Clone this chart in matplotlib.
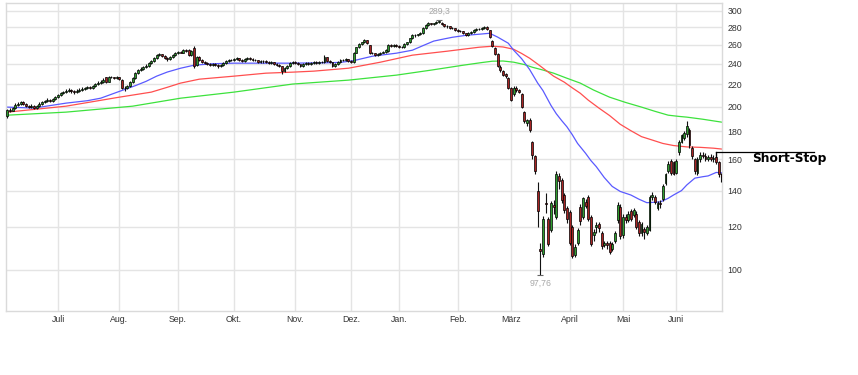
import matplotlib
matplotlib.use('Agg')
import matplotlib.pyplot as plt
import matplotlib.transforms as mtransforms
from matplotlib.ticker import NullLocator, FuncFormatter
import numpy as np
import pandas as pd

# ---------------- data (daily candles, Jun 2019 - Jun 2020) ----------------
opens = [
    192, 197, 196.5, 198.5, 201.5, 202, 203.5, 202, 200.5, 199.5, 200.5, 198.5, 200.5, 202.5, 204, 204.5, 205.5, 204.5, 206.5,
    208, 210, 211.5, 212.5, 213.5, 214.5, 213.5, 212.5, 213.5, 214.5, 215.5, 216, 217, 216, 218, 220, 221, 222, 226.5, 222, 226.5, 226.5, 225.5,
    226.5, 224, 216.5, 216, 218, 222, 225.5, 231, 233.5, 235, 236.5, 238, 240.5, 242.5, 245.5, 248.5, 249.5, 247.5, 245.5, 244.5, 246.5, 248.5,
    251, 252, 251.5, 254, 254, 248.5, 256, 238.5, 246.5, 243.5, 241.5, 240.5, 239.5, 238.5, 239.5, 238.5, 237.5, 238.5, 240.5, 242.5, 243.5,
    243.5, 244.5, 245.5, 243.5, 242.5, 244.5, 245.5, 244.5, 243.5, 243.5, 241.5, 242.5, 242.5, 241.5, 240.5, 241.5, 239.5, 238.5, 237.5, 232.5, 235.5, 237.5, 240.5,
    241.5, 240.5, 239.5, 237.5, 239.5, 240.5, 239.5, 240.5, 241.5, 240.5, 241.5, 241.5, 246.5, 242.5, 241.5, 237.5, 239.5, 241.5, 243.5, 243.5, 244.5,
    242.5, 241.5, 251.5, 257, 260.5, 262.5, 265, 259.5, 251, 250.5, 248.5, 249.5, 251.5, 252.5, 253, 259.5, 258.5, 259.5,
    258.5, 257, 257.5, 260.5, 262.5, 267, 270.5, 270.5, 271.5, 273, 279, 282.5, 284.5, 283.5, 284.5, 286, 285.5, 283.5, 281, 281, 278.5, 279,
    276.5, 275, 275.5, 273, 270.5, 273, 274, 276.5, 277.5, 277.5, 279, 280, 276.5, 264, 256, 249.5, 237, 233, 229.5, 225.5,
    216, 210.5, 216.5, 214.5, 211, 195.5, 186.5, 189, 172, 162, 140, 109.5, 107, 133, 124, 118.5, 131.5, 125, 149, 146.5, 137.5, 130,
    128, 120, 106.5, 112, 130.5, 125, 133.5, 136, 125, 116, 120, 121.5, 117, 111, 112, 112, 109.5, 113, 123.5, 130.5,
    116, 125, 123.5, 128.5, 126, 127, 122.5, 117, 119, 117, 118.5, 136, 136, 130, 133, 135, 144.5, 152, 159, 158,
    151, 165, 172, 175, 178, 181, 168, 160, 151, 160, 163, 162, 160, 161.5, 160, 161.5, 158, 150,
]
highs = [
    197.8, 199, 200, 203, 203.5, 205, 204.5, 203, 201.5, 202, 201, 201.5, 203.5, 205, 206, 207, 206.5, 207.5, 209.5,
    211, 213, 214, 215, 216, 215.5, 214.5, 215, 216, 217, 217.5, 218.5, 218, 219.5, 221, 222.5, 223.5, 225.5, 227, 227.5, 227.5, 227, 227.5,
    227, 224.5, 218, 219, 223, 226.5, 232, 234.5, 236.5, 237.5, 239.5, 241.5, 244, 246.5, 250, 251, 250, 248.5, 246.5, 247.5, 249.5, 252,
    253.5, 253, 255, 255.5, 255, 254, 258.5, 248, 248, 244.5, 242.5, 241.5, 240.5, 240.5, 240.5, 239.5, 239.5, 241.5, 243.5, 244.5, 245,
    245.5, 247, 246, 244.5, 245.5, 246.5, 246.5, 245.5, 245, 244, 243.5, 243.5, 243.5, 242.5, 242.5, 242, 240.5, 239.5, 238, 236.5, 238.5, 241.5, 242.5,
    242.5, 241.5, 240, 240.5, 241.5, 241.5, 241.5, 242.5, 242.5, 242.5, 243, 249, 247, 243.5, 242, 240.5, 242.5, 244.5, 244.5, 245.5, 245,
    243.5, 252.5, 258, 261.5, 263.5, 266.5, 265.5, 260, 252, 251, 250.5, 252.5, 253.5, 255, 260.5, 260.5, 260.5, 260.5,
    259.5, 258.5, 261.5, 263.5, 268, 271.5, 271.5, 272.5, 274, 280, 283.5, 286, 285.5, 285.5, 287, 289.3, 286.5, 284, 282.5, 281.5, 280, 279.5,
    277.5, 276.5, 276, 273.5, 274, 275, 277.5, 278.5, 279, 280, 281.5, 281, 277, 265, 257, 250.5, 238.5, 234, 230.5, 226.5,
    217, 218, 218, 215.5, 211.5, 196, 190, 190.5, 173, 163, 145, 112, 125.5, 138.5, 125, 134, 134.5, 152, 151, 147.5, 138.5, 131,
    129, 121, 111.5, 119.5, 132, 136.5, 135, 137.5, 126, 119, 122.5, 122.5, 118, 113, 113, 113, 112.5, 118, 133.5, 132,
    126.5, 126.5, 128.5, 129.5, 130, 128.5, 123.5, 122.5, 120, 121, 137.5, 139, 137.5, 134, 134.5, 144, 151, 158.5, 160, 159,
    160, 173.5, 178, 180, 188, 182.5, 169, 161, 161.5, 165, 165, 164, 163, 163.5, 162.5, 165, 159, 151,
]
lows = [
    190.4, 195, 196, 198, 200.5, 201.5, 201, 199.5, 198.5, 199, 197.5, 198, 200, 201.5, 203, 203.5, 203.5, 204, 205.5,
    207, 209.5, 210.5, 212, 212.5, 212, 211, 211.5, 213, 214, 214.5, 215, 215, 215.5, 217, 219, 220, 221, 221, 221.5, 225.5, 224.5, 225,
    224, 215, 214, 215.5, 217.5, 221, 225, 230, 232.5, 234, 235.5, 237, 239.5, 241.5, 244.5, 247.5, 246.5, 244.5, 243, 243.5, 245.5, 247.5,
    250, 250.5, 250.5, 252, 247.5, 248, 235.5, 237.5, 242.5, 240.5, 239.5, 238.5, 237.5, 237.5, 237.5, 236, 236.5, 237.5, 239.5, 241.5, 242.5,
    242.5, 243.5, 242.5, 241.5, 241.5, 243.5, 243.5, 242.5, 242.5, 240.5, 240.5, 241, 240.5, 239.5, 239.5, 238.5, 237.5, 236.5, 229.5, 231.5, 234.5, 236.5, 239.5,
    239.5, 238.5, 236.5, 236.5, 238.5, 238.5, 238.5, 239.5, 239.5, 239.5, 240.5, 241, 241.5, 240.5, 236.5, 236.5, 238.5, 240.5, 242.5, 242.5, 241.5,
    240.5, 241, 251, 256, 259.5, 261.5, 260.5, 250, 249.5, 247.5, 247.5, 248.5, 250.5, 251.5, 252.5, 257.5, 257.5, 257.5,
    256, 256, 256.5, 259.5, 261.5, 266, 269, 269.5, 270.5, 272.5, 278, 281.5, 282.5, 282.5, 283.5, 285, 282.5, 280, 279.5, 277.5, 277.5, 275.5,
    274, 274, 272, 269.5, 270, 272, 273, 275.5, 276.5, 276.5, 278, 277, 267, 257, 248.5, 236.5, 232, 227.5, 226, 215,
    204.5, 209.5, 213, 211.5, 198.5, 186.5, 184, 179.5, 160, 150, 120, 97.76, 105.5, 127.5, 110.5, 117.5, 126.5, 124, 141, 133, 127.5, 122,
    111, 105, 105.5, 111, 121, 124, 130, 123, 110.5, 113, 117, 117.5, 109.5, 110, 109.5, 107, 108.5, 112, 122, 114,
    114.5, 122, 122.5, 123, 125, 119, 115.5, 115.5, 114, 116, 118, 134.5, 132.5, 129, 130, 134, 143.5, 151, 149.5, 149.5,
    150, 163, 171, 173.5, 176, 168, 160, 150, 149.5, 158, 160.5, 158.5, 159, 158.5, 158, 157, 148, 145,
]
closes = [
    197, 196.5, 198.5, 201.5, 202, 203.5, 202, 200.5, 199.5, 200.5, 198.5, 200.5, 202.5, 204, 204.5, 205.5, 204.5, 206.5, 208,
    210, 211.5, 212.5, 213.5, 214.5, 213.5, 212.5, 213.5, 214.5, 215.5, 216, 217, 216, 218, 220, 221, 222, 224, 222, 226.5, 226.5, 225.5, 226.5,
    225, 216.5, 216, 218, 222, 225.5, 231, 233.5, 235, 236.5, 238, 240.5, 242.5, 245.5, 248.5, 249.5, 247.5, 245.5, 244.5, 246.5, 248.5, 251,
    252, 251.5, 254, 253, 248.5, 253, 237.5, 246.5, 243.5, 241.5, 240.5, 239.5, 238.5, 239.5, 238.5, 237.5, 238.5, 240.5, 242.5, 243.5, 243.5,
    244.5, 245.5, 243.5, 242.5, 244.5, 245.5, 244.5, 243.5, 243.5, 241.5, 242.5, 242.5, 241.5, 240.5, 241.5, 239.5, 238.5, 237.5, 232.5, 235.5, 237.5, 240.5, 241.5,
    240.5, 239.5, 237.5, 239.5, 240.5, 239.5, 240.5, 241.5, 240.5, 241.5, 241.5, 246.5, 242.5, 241.5, 237.5, 239.5, 241.5, 243.5, 243.5, 244.5, 242.5,
    241.5, 251.5, 257, 260.5, 262.5, 265, 261.5, 251, 250.5, 248.5, 249.5, 251.5, 252.5, 254, 259.5, 258.5, 259.5, 258.5,
    257, 257.5, 260.5, 262.5, 267, 270.5, 270.5, 271.5, 273, 279, 282.5, 284.5, 283.5, 284.5, 286, 287, 283.5, 281, 281, 278.5, 279, 276.5,
    275, 275.5, 273, 270.5, 273, 274, 276.5, 277.5, 277.5, 279, 280, 278, 268.5, 259, 250, 238, 233.5, 229, 227.5, 216,
    205.5, 216.5, 214.5, 213, 200, 188, 189, 181, 163, 152, 128.5, 108.5, 124, 132, 111.5, 133, 130.5, 150.5, 146, 134.5, 129, 124,
    112, 106, 110, 118.5, 123, 135.5, 131, 124, 111.5, 117.5, 121, 119.5, 110.5, 112, 111, 108, 111.5, 117, 131.5, 115.5,
    125, 123.5, 127, 124, 129, 120, 117, 121.5, 117.5, 120, 136, 137.5, 133.5, 133, 132, 143, 150, 157, 151, 150.5,
    158.5, 172, 177, 178.5, 184, 170, 162, 152, 160, 163, 162, 160, 161.5, 160, 161, 158, 150, 148,
]

# trading calendar
start_date, end_date = '2019-06-04', '2020-06-24'
holidays = ['2019-12-24', '2019-12-25', '2019-12-26', '2019-12-31',
            '2020-01-01', '2020-04-10', '2020-04-13', '2020-05-01']
month_labels = ['Juli', 'Aug.', 'Sep.', 'Okt.', 'Nov.', 'Dez.', 'Jan.',
                'Feb.', 'März', 'April', 'Mai', 'Juni']
y_ticks = [100, 120, 140, 160, 180, 200, 220, 240, 260, 280, 300]

# moving averages (trading-day number, value)
ma_short_day = [0, 10, 22, 30, 35, 40, 44, 48, 52, 56, 60, 65, 70, 77, 85, 107, 120, 125, 130, 137,
                146, 152, 156, 160, 164, 167, 172, 177, 181, 184, 188, 190, 193, 196, 199, 201, 204,
                206, 208, 210, 212, 214, 217, 219, 221, 224, 227, 230, 234, 237, 240, 245, 248, 250,
                253, 255, 258, 261, 263, 266, 268]
ma_short_val = [199.5, 198.7, 202.9, 205, 207.2, 211.5, 215, 218.5, 222.5, 227.5, 231.5, 235.3, 238.3,
                239.8, 240.4, 240.4, 240.8, 241.2, 243, 247.6, 250.8, 254, 259, 264, 266.5, 268.3,
                270.5, 271.8, 272.9, 268.5, 261.6, 254, 245, 234, 221, 214, 201, 194, 188.5, 183.5,
                177.5, 171, 164, 159, 155, 148, 142.5, 139.5, 137.4, 135, 133, 133.4, 135.5, 137.4,
                140, 143.4, 147.6, 148.5, 149, 151.2, 151]
ma_mid_day = [0, 22, 42, 54, 60, 65, 72, 85, 97, 107, 115, 128, 140, 152, 165, 177, 182, 186, 190,
              193, 196, 199, 202, 205, 209, 212, 215, 218, 222, 226, 230, 234, 238, 242, 246, 250,
              255, 260, 265, 268]
ma_mid_val = [195.3, 200.3, 208.1, 212.6, 217, 220.9, 224.6, 227.5, 230.4, 231.4, 232.4, 235.3, 241.4,
              248.7, 252.9, 257.2, 258.3, 257.5, 255, 250.5, 245.5, 239.5, 233.4, 227.5, 221.8, 216.5,
              211.6, 205.5, 198.7, 192.5, 185.5, 180.5, 176, 173.5, 171, 169.5, 168.5, 168.2, 167.6, 167]
ma_long_day = [0, 22, 47, 65, 85, 107, 128, 146, 159, 171, 178, 182, 186, 190, 194, 197, 201, 205,
               210, 215, 220, 226, 232, 238, 243, 248, 252, 255, 261, 268]
ma_long_val = [192.8, 195.3, 200.3, 207.2, 212.6, 220, 223.7, 228.5, 233.4, 238.3, 241, 242.4, 242.6,
               241.4, 239, 236.3, 233.5, 230.4, 225.5, 220.9, 214.5, 208.1, 203.5, 199.5, 196, 192.8,
               191.8, 191.2, 189.5, 187.2]

short_stop = 165
short_stop_label = 'Short-Stop'

# ---------------- figure ----------------
n = len(closes)
dates = pd.bdate_range(start_date, end_date)
dates = dates[~dates.isin(pd.to_datetime(holidays))][:n]

o = np.array(opens, float)
h = np.array(highs, float)
l = np.array(lows, float)
c = np.array(closes, float)
x = np.arange(n)

fig = plt.figure(figsize=(8.58, 3.75), dpi=100)
ax = fig.add_axes([6 / 858, 64 / 375, 716 / 858, 308 / 375])
ax.set_yscale('log')

# moving averages
ax.plot(ma_long_day, ma_long_val, color='#3de23d', lw=0.9, zorder=2)
ax.plot(ma_mid_day, ma_mid_val, color='#ff4f4f', lw=0.9, zorder=2)
ax.plot(ma_short_day, ma_short_val, color='#5a5aff', lw=0.9, zorder=2)

# candles
ax.vlines(x, l, h, color='#111111', lw=0.8, zorder=3)
up = c >= o
bottom = np.minimum(o, c)
height = np.maximum(np.abs(c - o), 0.35)
ax.bar(x[up], height[up], bottom=bottom[up], width=0.72, color='#2f9e2f',
       edgecolor='black', linewidth=0.5, zorder=4)
ax.bar(x[~up], height[~up], bottom=bottom[~up], width=0.72, color='#a82424',
       edgecolor='black', linewidth=0.5, zorder=4)

# extreme annotations
imax = int(np.argmax(h))
imin = int(np.argmin(l))
for idx, val, dy in [(imax, h[imax], 8), (imin, l[imin], -8)]:
    ax.plot([idx], [val], marker='_', ms=5, mew=0.8, color='#666666', zorder=5)
    ax.annotate(f'{val:g}'.replace('.', ','), (idx, val), xytext=(0, dy),
                textcoords='offset pixels', ha='center', va='center',
                fontsize=6.3, color='#a8a8a8', family='Liberation Sans')

# short stop marker
ax.plot([n - 3, n - 3], [short_stop * 0.978, short_stop], color='black', lw=0.9,
        clip_on=False, zorder=6)
trans = mtransforms.blended_transform_factory(ax.transAxes, ax.transData)
ax.plot([(716 - 6) / 716, (814 - 6) / 716], [short_stop, short_stop], color='black',
        lw=0.9, transform=trans, clip_on=False, zorder=6)
ax.text((752 - 6) / 716, short_stop * 0.974, short_stop_label, transform=trans,
        ha='left', va='center', fontsize=8.8, fontweight='bold',
        family='DejaVu Sans', color='black')

# axes
ax.set_xlim(-0.53, n - 0.8)
ax.set_ylim(84.0, 310.3)
ax.set_yticks(y_ticks)
ax.yaxis.set_minor_locator(NullLocator())
ax.yaxis.set_major_formatter(FuncFormatter(lambda v, _: f'{v:.0f}'))
ax.yaxis.tick_right()

pos = pd.Series(x, index=dates)
firsts = pos.groupby([dates.year, dates.month]).first().values[1:]
ax.set_xticks(firsts)
ax.set_xticklabels(month_labels[:len(firsts)])

ax.tick_params(axis='both', length=0, labelsize=6.3, labelcolor='#333333')
ax.tick_params(axis='y', pad=4)
ax.tick_params(axis='x', pad=3)
for lab in ax.get_xticklabels() + ax.get_yticklabels():
    lab.set_family('Liberation Sans')

ax.grid(True, color='#e4e4e4', lw=1)
ax.set_axisbelow(True)
for sp in ax.spines.values():
    sp.set_color('#dadada')
    sp.set_linewidth(1)

fig.savefig('out.png', dpi=100, facecolor='white')
